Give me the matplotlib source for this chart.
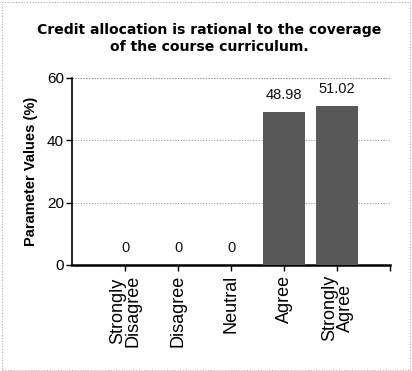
import matplotlib
matplotlib.use('Agg')
from matplotlib import pyplot as plt
from matplotlib.patches import Rectangle

categories = ['Strongly\nDisagree', 'Disagree', 'Neutral', 'Agree', 'Strongly\nAgree']
values = [0, 0, 0, 48.98, 51.02]
value_labels = ['0', '0', '0', '48.98', '51.02']
yticks = [0, 20, 40, 60]

plt.rcParams['font.family'] = ['Liberation Sans', 'DejaVu Sans']

fig = plt.figure(figsize=(4.12, 3.71), dpi=100)
ax = fig.add_axes([0.175, 0.286, 0.772, 0.504])

x = list(range(len(categories)))
ax.bar(x, values, width=0.8, color='#585858', zorder=3)

for xi, v, lab in zip(x, values, value_labels):
    ax.text(xi, v + 5.5, lab, ha='center', va='center', fontsize=10.5, color='#111111')

ax.set_xlim(-1, 5)
ax.set_ylim(0, 60)
ax.set_yticks(yticks)
ax.set_xticks(x + [5])
ax.set_xticklabels(categories + [''], rotation=90, fontsize=13, va='top', linespacing=0.9)
ax.tick_params(axis='y', labelsize=11, length=4, width=1, pad=2)
ax.tick_params(axis='x', length=4, width=1, pad=3)

ax.yaxis.grid(True, linestyle=(0, (1, 1.5)), color='#999999', linewidth=0.8, zorder=0)
ax.spines['right'].set_visible(False)
ax.spines['top'].set_visible(False)
ax.spines['left'].set_linewidth(1.2)
ax.spines['bottom'].set_linewidth(1.8)
# dotted top line at 60
ax.axhline(60, linestyle=(0, (1, 1.5)), color='#999999', linewidth=0.8, zorder=0, clip_on=False)

ax.set_ylabel('Parameter Values (%)', fontsize=10.5, fontweight='bold', labelpad=6)

fig.text(0.507, 0.896, 'Credit allocation is rational to the coverage\nof the course curriculum.',
         ha='center', va='center', fontsize=10.1, fontweight='bold',
         family=['DejaVu Sans'], linespacing=1.25)

# dotted frame around the figure
fig.patches.append(Rectangle((0.004, 0.004), 0.992, 0.99, transform=fig.transFigure,
                             fill=False, edgecolor='#aaaaaa', linestyle=(0, (1, 1.5)),
                             linewidth=0.8))

fig.savefig('out.png', dpi=100)
